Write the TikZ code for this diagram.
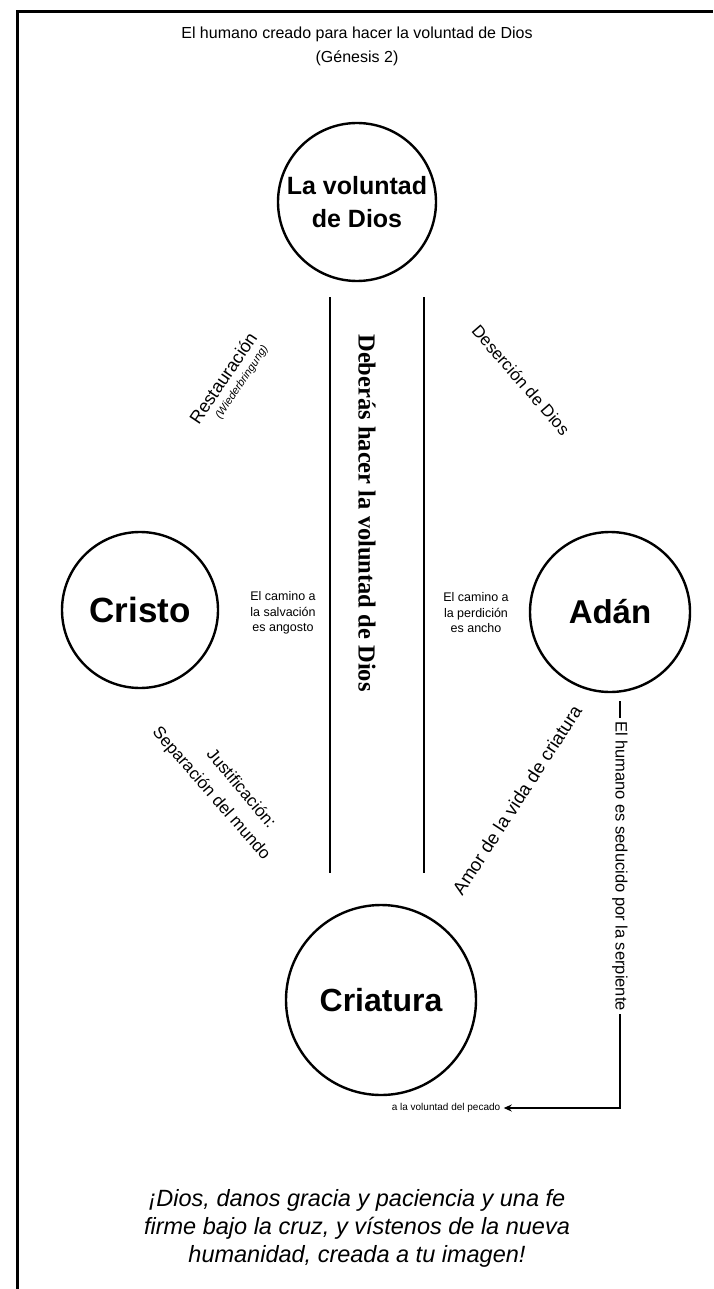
\documentclass[tikz,border=0pt]{standalone}
\usepackage{fontspec}
\setmainfont{Liberation Sans}
\newfontfamily\timesBold{Liberation Serif}
\usepackage{tikz}
\usetikzlibrary{arrows.meta,positioning}

\begin{document}
\begin{tikzpicture}[x=1pt,y=-1pt,
  circ/.style={draw, circle, line width=2.4pt, inner sep=0pt, align=center,
    font=\bfseries\fontsize{32}{35}\selectfont},
  smallNote/.style={align=center, font=\fontsize{12.5}{15.5}\selectfont},
  slantNote/.style={font=\fontsize{17}{20}\selectfont, inner sep=1pt},
  bar/.style={line width=2.6pt}]
\useasboundingbox (0,0) rectangle (713,1289);
% frame
\draw[line width=3pt] (17,1289) -- (17,12) -- (713,12);
\node[align=center, font=\fontsize{16}{24}\selectfont] (title) at (357,46)
  {El humano creado para hacer la voluntad de Dios\\(Génesis 2)};

% circles
\node[circ, minimum size=158pt, font=\bfseries\fontsize{25}{33}\selectfont] (dios) at (357,202) {La voluntad\\de Dios};
\node[circ, minimum size=156pt, font=\bfseries\fontsize{35}{38}\selectfont] (cristo) at (140,610) {Cristo};
\node[circ, minimum size=160pt, font=\bfseries\fontsize{33}{36}\selectfont] (adan) at (610,612) {Adán};
\node[circ, minimum size=190pt] (criatura) at (381,1000) {Criatura};

% the two bars
\coordinate (lTop) at (330,297);
\coordinate (lBot) at (330,873);
\coordinate (rTop) at (424,297);
\coordinate (rBot) at (424,873);
\draw[bar] (lTop) -- (lBot);
\draw[bar] (rTop) -- (rBot);
\node[rotate=-90, font=\timesBold\bfseries\fontsize{24.5}{28}\selectfont] (deber) at (367,513)
  {Deberás hacer la voluntad de Dios};

\node[smallNote] (angosto) at (283,613) {El camino a\\la salvación\\es angosto};
\node[smallNote] (ancho) at (476,613) {El camino a\\la perdición\\es ancho};

% diagonal labels
\node[slantNote, rotate=56, font=\fontsize{18}{20}\selectfont] (resta) at (223,378) {Restauración};
\node[rotate=56, anchor=north, inner sep=1pt, font=\itshape\fontsize{11}{13}\selectfont] (wieder)
  at ([shift={(56:7pt)}, shift={(-34:4pt)}]resta.south) {(Wiederbringung)};
\node[slantNote, rotate=-49] (deser) at (521,380) {Deserción de Dios};
\node[slantNote, rotate=-50] (justi) at (242,788) {Justificación:};
\node[slantNote, rotate=-49] (separ) at (211,794) {Separación del mundo};
\node[slantNote, rotate=57, font=\fontsize{18.5}{20}\selectfont] (amor) at (517,800) {Amor de la vida de criatura};

% serpent path
\node[rotate=-90, font=\fontsize{16.5}{18}\selectfont] (serp) at (620,866) {El humano es seducido por la serpiente};
\node[font=\fontsize{10}{12}\selectfont] (pecado) at (446,1108) {a la voluntad del pecado};
\coordinate (adanFoot) at ([yshift=-8pt]adan.south -| serp.west);
\draw[line width=2pt] (adanFoot) -- (serp.west);
\draw[line width=2pt, -{Stealth[length=8pt,width=7pt]}] (serp.east) |- (pecado.east);

\node[align=center, font=\itshape\fontsize{23.5}{28}\selectfont] (prayer) at (357,1228)
  {¡Dios, danos gracia y paciencia y una fe\\firme bajo la cruz, y vístenos de la nueva\\humanidad, creada a tu imagen!};
\end{tikzpicture}
\end{document}
